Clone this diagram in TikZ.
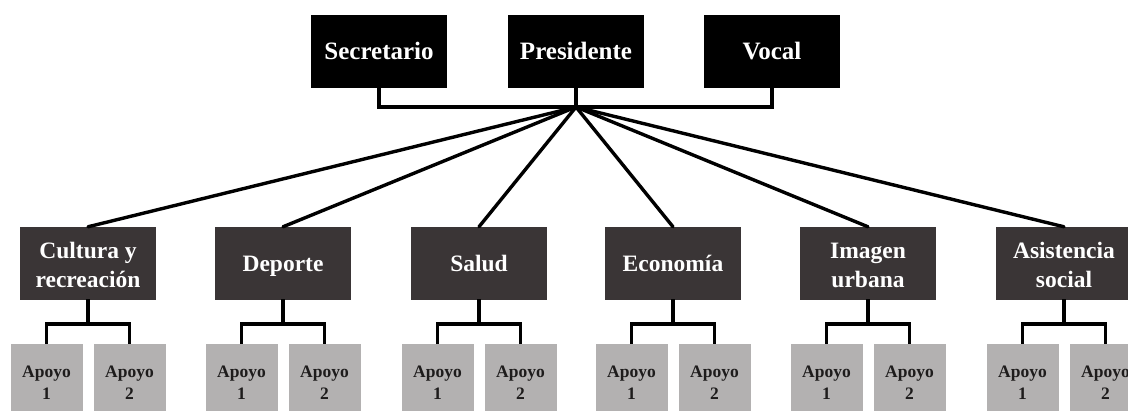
\documentclass[tikz,border=0pt]{standalone}
\usepackage{fontspec}
\setmainfont{Liberation Serif}
\definecolor{midgray}{HTML}{3A3536}
\definecolor{lightbox}{HTML}{B3B1B1}
\definecolor{apoyotext}{HTML}{1E1C1C}
\begin{document}
\begin{tikzpicture}[x=1pt,y=-1pt,
  topbox/.style={fill=black,draw=black,minimum width=135pt,minimum height=72pt,inner sep=0pt},
  toptext/.style={anchor=base,inner sep=0pt,text=white,font=\bfseries\fontsize{25}{29}\selectfont},
  midbox/.style={fill=midgray,draw=midgray,minimum width=135pt,minimum height=72pt,inner sep=0pt},
  midtext/.style={anchor=base,inner sep=0pt,text=white,font=\bfseries\fontsize{23.5}{30}\selectfont},
  apbox/.style={fill=lightbox,draw=none,minimum width=72pt,minimum height=76pt,inner sep=0pt},
  aptext/.style={anchor=base,inner sep=0pt,text=apoyotext,font=\bfseries\fontsize{17.5}{21}\selectfont},
  conn/.style={draw=black,line width=3.4pt},
  ]
\clip (0,0) rectangle (1128,411);
\fill[white] (0,0) rectangle (1128,411);
% top row
\node[topbox] (sec) at (379,51) {};
\node[topbox] (pres) at (576,51) {};
\node[topbox] (voc) at (772,51) {};
\node[toptext] (secT) at (379,60) {Secretario};
\node[toptext] (presT) at (576,60) {Presidente};
\node[toptext] (vocT) at (772,60) {Vocal};
\coordinate (hub) at (576,107);
\coordinate (hl) at (379,107);
\coordinate (hr) at (772,107);
\draw[conn] (sec.south) -- (hl) -- (hr) -- (voc.south);
\draw[conn] (pres.south) -- (hub);
% middle row
\foreach \n/\cx in {cul/88,dep/283,sal/479,eco/673,ima/868,asi/1064}{
  \node[midbox] (\n) at (\cx,263) {};
}
\node[midtext] (culT1) at (88,259) {Cultura y};
\node[midtext] (culT2) at (88,288) {recreación};
\node[midtext] (depT) at (283,272) {Deporte};
\node[midtext] (salT) at (479,272) {Salud};
\node[midtext] (ecoT) at (673,272) {Economía};
\node[midtext] (imaT1) at (868,259) {Imagen};
\node[midtext] (imaT2) at (868,288) {urbana};
\node[midtext] (asiT1) at (1064,259) {Asistencia};
\node[midtext] (asiT2) at (1064,288) {social};
\foreach \n in {cul,dep,sal,eco,ima,asi}{
  \draw[conn,line cap=round] (hub) -- (\n.north);
}
% support boxes
\foreach \n/\cx in {cul/88,dep/283,sal/479,eco/673,ima/868,asi/1064}{
  \node[apbox] (\n a) at (\cx-41.5,382) {};
  \node[apbox] (\n b) at (\cx+41.5,382) {};
  \node[aptext] (\n aT1) at (\cx-41.5,378) {Apoyo};
  \node[aptext] (\n aT2) at (\cx-41.5,400) {1};
  \node[aptext] (\n bT1) at (\cx+41.5,378) {Apoyo};
  \node[aptext] (\n bT2) at (\cx+41.5,400) {2};
  \coordinate (\n m) at (\cx,324);
  \coordinate (\n l) at (\cx-41.5,324);
  \coordinate (\n r) at (\cx+41.5,324);
  \draw[conn] (\n.south) -- (\n m);
  \draw[conn] (\n a.north) -- (\n l) -- (\n r) -- (\n b.north);
}
\end{tikzpicture}
\end{document}
